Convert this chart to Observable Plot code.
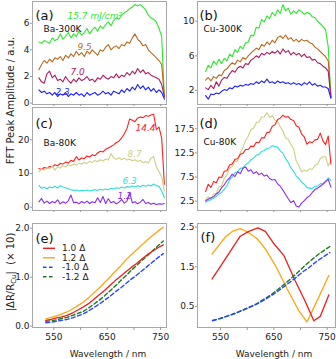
<!DOCTYPE html>
<html><head><meta charset="utf-8">
<script src="https://cdn.jsdelivr.net/npm/d3@7"></script>
<script src="https://cdn.jsdelivr.net/npm/@observablehq/plot@0.6"></script>
<style>
html,body{margin:0;padding:0;background:#fff;}
#chart{position:relative;width:336px;height:359px;overflow:hidden;font-family:"DejaVu Sans";}
#chart svg{position:absolute;}
</style></head><body><div id="chart"></div>
<script>
// ---------- data ----------
const wlNoisy = [522,527,532,537,542,547,552,557,562,567,572,577,582,587,592,597,602,607,612,617,622,627,632,637,642,647,652,657,662,667,672,677,682,687,692,697,702,707,712,717,722,727,732,737,742,747,752,757];
const wlSmooth = [535,545,555,565,575,585,595,605,615,625,635,645,655,665,675,685,695,705,715,725,735,745,755];

// (a) Ba-300K
const aGreen = [4.6,4.5,4.7,4.6,4.5,4.9,4.7,4.8,5.2,4.8,5.0,5.3,4.9,5.2,5.0,5.4,5.1,5.3,5.6,5.2,5.5,5.7,5.4,5.8,5.6,5.9,6.1,5.8,6.2,6.4,6.3,6.6,6.8,6.9,7.1,7.2,7.4,7.3,7.4,7.2,7.0,6.6,6.4,6.3,6.1,5.6,5.0,0.4];
const aBrown = [2.5,2.9,3.2,3.0,3.3,3.1,3.4,3.3,3.5,3.2,3.6,3.4,3.7,3.5,3.9,3.6,3.8,3.5,3.9,3.7,4.0,3.8,3.6,4.0,3.9,4.2,4.4,4.0,4.2,4.3,4.1,4.4,4.3,4.6,4.5,4.9,5.2,4.8,4.6,4.3,4.4,4.0,3.8,3.6,3.4,3.2,2.9,0.5];
const aMagenta = [1.9,1.6,1.5,2.2,2.4,1.9,2.1,1.7,1.8,1.6,2.0,1.7,1.5,1.8,1.6,1.9,1.7,1.8,2.0,1.7,1.8,1.6,1.9,1.8,2.1,1.9,1.8,2.0,1.9,2.2,1.9,2.1,2.0,2.3,2.1,2.4,2.2,2.6,2.3,2.5,2.2,2.3,2.1,2.0,1.9,1.8,1.4,0.5];
const aBlue = [1.0,0.8,0.9,0.7,0.8,0.6,0.8,0.5,0.7,0.6,0.8,0.5,0.7,0.6,0.8,0.6,0.7,0.5,0.8,0.6,0.7,0.8,0.6,0.7,0.9,0.7,0.8,0.6,0.9,0.8,0.7,1.0,0.8,1.1,0.9,1.2,1.0,1.4,1.1,1.3,1.0,1.2,0.9,1.1,0.8,1.0,0.8,0.3];

// (b) Cu-300K
const bGreen = [4.2,4.9,4.6,5.4,5.0,5.6,5.1,5.7,5.4,6.2,5.9,6.7,6.4,7.1,6.8,7.5,7.6,8.4,8.3,9.3,9.2,10.2,9.9,10.6,10.3,11.0,10.6,11.3,10.9,11.9,11.2,11.5,10.8,11.2,10.9,11.3,11.1,10.8,11.0,10.9,10.5,10.4,10.0,9.7,9.4,9.0,7.0,1.2];
const bBrown = [3.2,3.5,3.1,3.6,3.4,3.8,3.7,4.3,4.5,4.9,5.2,5.0,5.5,5.3,5.8,5.6,6.0,6.3,6.6,6.9,6.7,7.3,7.1,7.6,7.3,7.8,7.5,8.1,8.3,8.0,8.4,7.9,8.1,7.7,7.9,7.6,7.9,7.7,7.8,7.5,7.4,7.0,6.8,6.5,6.2,5.9,5.4,1.2];
const bMagenta = [2.3,2.1,2.6,2.2,3.0,2.5,3.2,3.5,3.4,3.9,4.3,4.1,4.6,4.8,4.6,5.1,5.0,5.5,5.7,6.0,5.8,6.3,6.1,6.4,6.2,6.5,6.3,6.6,6.2,6.8,6.4,6.6,6.1,6.4,6.1,6.3,5.9,6.2,5.8,5.9,5.5,5.6,5.2,5.1,4.8,4.6,4.2,1.2];
const bBlue = [1.4,1.0,1.6,1.5,1.7,1.6,1.9,2.1,2.0,2.3,2.2,2.5,2.4,2.6,2.5,2.7,2.6,2.8,2.7,3.0,2.8,3.1,2.9,3.3,2.9,3.0,2.8,3.1,2.9,3.0,2.8,2.9,2.7,2.9,2.7,2.8,2.6,2.9,2.7,3.0,2.6,2.8,2.5,2.6,2.4,2.4,2.2,1.1];

// (c) Ba-80K
const cRed = [11.5,11.2,11.8,11.6,12.1,12.0,12.6,12.3,13.0,12.8,13.4,13.1,13.9,13.6,15.0,14.0,14.6,14.4,15.2,14.9,15.6,15.3,16.1,16.6,16.4,17.2,17.6,18.0,18.5,19.2,19.6,20.6,21.8,23.4,26.2,25.8,25.4,26.5,26.8,26.6,27.2,27.0,27.4,27.6,23.0,23.8,20.5,6.8];
const cOlive = [10.5,11.3,11.0,11.8,11.4,12.2,11.0,12.0,11.6,12.3,12.0,12.6,12.3,12.8,12.5,13.1,12.8,13.3,13.0,13.6,13.3,13.9,13.5,14.1,13.7,14.3,14.0,15.9,14.6,14.2,14.7,14.1,14.5,14.0,14.3,13.8,14.1,13.6,13.9,13.2,13.6,13.1,14.6,15.0,12.0,10.5,9.0,4.8];
const cCyan = [6.5,5.6,5.9,5.5,6.0,5.8,6.2,5.7,6.4,6.0,5.8,5.5,5.2,5.0,5.1,4.8,5.0,4.9,5.1,4.8,5.0,5.2,5.0,5.3,5.1,5.4,5.2,5.6,5.4,5.8,5.6,6.0,5.7,6.1,5.9,6.3,6.0,6.4,6.1,6.5,6.2,6.6,6.3,6.9,6.4,6.2,4.8,2.8];
const cPurple = [1.6,2.6,1.2,1.8,1.1,1.7,1.3,2.2,1.0,1.6,1.2,1.9,3.6,1.3,1.5,1.0,1.7,1.2,1.8,1.1,1.6,1.3,2.8,1.4,3.2,1.1,2.5,1.3,1.7,1.0,1.5,2.3,1.2,1.8,4.4,1.3,1.6,1.0,1.5,2.3,1.1,1.4,0.9,1.2,0.8,1.0,0.9,1.1];

// (d) Cu-80K
const dRed = [4.5,6.0,5.3,6.6,6.3,7.5,7.4,8.7,8.8,10.0,10.2,11.2,11.3,12.2,12.4,13.2,13.2,13.9,13.8,14.7,14.6,15.6,15.6,16.7,16.8,18.0,18.3,19.4,19.7,20.3,19.9,20.0,19.4,19.2,18.1,17.8,16.4,15.8,14.3,14.8,14.6,15.2,15.3,16.6,15.0,14.2,16.0,10.2];
const dOlive = [2.8,3.4,2.9,4.0,4.1,5.5,5.7,7.2,7.9,9.4,9.7,10.8,10.8,12.5,13.6,15.1,16.0,17.3,17.6,18.8,18.9,19.9,20.0,20.8,19.9,20.2,19.3,19.0,17.9,17.0,15.6,15.3,14.2,13.4,10.8,9.8,8.6,8.9,8.7,9.2,9.1,9.9,10.2,11.3,11.7,11.7,9.8,11.0];
const dCyan = [2.3,2.6,2.8,3.1,3.5,4.0,4.3,5.0,5.7,6.9,7.5,8.4,8.6,9.3,9.4,10.1,10.4,11.1,11.4,12.0,12.2,12.8,13.0,13.4,13.5,14.0,13.8,13.7,12.9,12.4,11.3,10.5,9.4,8.7,7.7,7.2,6.4,6.0,5.3,5.2,5.1,5.6,5.6,6.1,6.2,6.7,7.3,6.8];
const dPurple = [2.6,2.9,3.2,3.4,4.0,4.4,5.3,5.9,6.8,7.3,8.1,7.6,8.6,8.2,9.3,9.6,8.7,9.0,8.2,8.6,8.0,8.3,7.7,7.9,7.2,6.9,7.0,6.1,5.6,4.8,3.9,3.0,2.2,2.6,1.5,1.3,2.1,2.6,3.2,3.6,4.3,4.9,5.2,5.6,6.0,6.5,7.0,5.4];

// (e) |dR/R_Cu| (x10), Ba
const eRed = [0.12,0.14,0.17,0.19,0.22,0.27,0.33,0.39,0.46,0.55,0.64,0.73,0.83,0.93,1.02,1.11,1.20,1.28,1.37,1.46,1.53,1.60,1.66];
const eOrange = [0.15,0.18,0.21,0.25,0.29,0.35,0.42,0.49,0.58,0.68,0.78,0.89,1.00,1.12,1.23,1.35,1.46,1.56,1.66,1.76,1.85,1.94,2.02];
const eBlue = [0.07,0.08,0.10,0.12,0.14,0.17,0.21,0.25,0.31,0.38,0.45,0.53,0.61,0.70,0.78,0.87,0.96,1.04,1.13,1.22,1.31,1.40,1.48];
const eGreen = [0.10,0.11,0.13,0.16,0.18,0.22,0.26,0.30,0.37,0.45,0.53,0.62,0.72,0.82,0.93,1.03,1.14,1.24,1.34,1.44,1.54,1.64,1.74];

// (f) Cu
const fRedWl = [534,560,587,603,620,634,650,669,690,708,725,737,753];
const fRed = [1.19,1.72,2.27,2.39,2.48,2.39,2.08,1.78,1.15,0.65,0.14,0.25,0.79];
const fOrangeWl = [534,559,572,587,602,619,634,653,675,697,712,731,753];
const fOrange = [1.82,2.25,2.39,2.46,2.37,2.20,1.95,1.53,0.94,0.39,0.11,0.64,1.28];
const fBlue = [0.14,0.18,0.22,0.27,0.31,0.37,0.42,0.48,0.54,0.61,0.69,0.77,0.86,0.96,1.06,1.16,1.27,1.38,1.47,1.58,1.68,1.77,1.86];
const fGreen = [0.15,0.18,0.22,0.27,0.32,0.37,0.43,0.49,0.55,0.63,0.71,0.80,0.90,1.01,1.12,1.24,1.36,1.49,1.61,1.72,1.83,1.92,2.01];

// ticks / labels
const xTicks = [550,600,650,700,750];
const xLabelTicks = [550,650,750];
const yTicksA = [0,2,4,6];
const yTicksB = [2,6,10];
const yTicksC = [0,10,20];
const yTicksD = [2.5,7.5,12.5,17.5];
const yTicksE = [0,1,2];
const yTicksF = [0.5,1.5,2.5];
const legendLabels = ["1.0 \u0394","1.2 \u0394","-1.0 \u0394","-1.2 \u0394"];

// ---------- colours ----------
const C = {green:"#2ee62e", brown:"#b8691d", magenta:"#ae1b5f", blue:"#1f1fff",
           red:"#ff1f1f", olive:"#cfcf82", cyan:"#30dcdc", purple:"#8a2cf2",
           eRed:"#ea1f1f", eOrange:"#ffa512", eBlue:"#2846ff", eGreen:"#1d7a1d"};

// ---------- drawing ----------
const chart = document.getElementById("chart");
const FONT = "DejaVu Sans";
const rows = (wl, v) => wl.map((w, i) => ({wl: w, v: v[i]}));

function panel(o) {
  const svg = Plot.plot({
    width: o.width, height: o.height,
    marginLeft: o.ml, marginRight: o.mr, marginTop: o.mt, marginBottom: o.mb,
    style: {fontFamily: FONT, fontSize: "9px", color: "#222", background: "transparent", overflow: "visible"},
    x: {domain: o.xDomain},
    y: {domain: o.yDomain},
    marks: [
      Plot.frame({stroke: "#a8a8a8"}),
      Plot.axisX({ticks: xTicks, tickSize: o.xTickSize, tickPadding: 3, stroke: "#999", fill: "#222",
        tickFormat: o.xLabels ? (d => xLabelTicks.includes(d) ? String(d) : "") : () => "", label: null, fontSize: 9}),
      Plot.axisY({ticks: o.yTicks, tickSize: 2, tickPadding: 1, stroke: "#999", fill: "#222", label: null, fontSize: 9,
        tickFormat: o.yFormat}),
      ...o.series.map(s => Plot.line(rows(s.wl, s.v), {x: "wl", y: "v", stroke: s.color, strokeWidth: s.w ?? 1.1, strokeDasharray: s.dash})),
      ...o.texts.map(t => Plot.text([t.text], {text: d => d, frameAnchor: "top-left", dx: t.dx, dy: t.dy,
        fill: t.color ?? "#111", fontSize: t.size ?? 9, fontStyle: t.italic ? "italic" : "normal",
        textAnchor: t.anchor ?? "start", rotate: t.rotate ?? 0}))
    ]
  });
  svg.style.left = o.left + "px";
  svg.style.top = o.top + "px";
  svg.style.background = "transparent";
  svg.style.overflow = "visible";
  chart.appendChild(svg);
  return svg;
}

const leftCol = {left: 0, width: 168, ml: 32, mr: 2, xDomain: [510, 761]};
const rightCol = {left: 166, width: 170, ml: 31, mr: 1, xDomain: [506.8, 765.6]};
const row1 = {top: 0, height: 106, mt: 1, mb: 2, xTickSize: 2, xLabels: false};
const row2 = {top: 106, height: 106, mt: 1, mb: 2, xTickSize: 2, xLabels: false};
const row3 = {top: 210, height: 149, mt: 13, mb: 32, xTickSize: 3, xLabels: true};

// (a)
panel({...leftCol, ...row1, yDomain: [-0.1, 7.63], yTicks: yTicksA,
  series: [
    {wl: wlNoisy, v: aGreen, color: C.green},
    {wl: wlNoisy, v: aBrown, color: C.brown},
    {wl: wlNoisy, v: aMagenta, color: C.magenta},
    {wl: wlNoisy, v: aBlue, color: C.blue}],
  texts: [
    {text: "(a)", dx: 3, dy: 9.5, size: 13},
    {text: "Ba-300K", dx: 11, dy: 24},
    {text: "15.7 mJ/cm\u00b2", dx: 35, dy: 11, color: C.green, italic: true},
    {text: "9.5", dx: 45, dy: 42, color: C.brown, italic: true},
    {text: "7.0", dx: 38, dy: 67, color: C.magenta, italic: true},
    {text: "2.3", dx: 23, dy: 87, color: C.blue, italic: true},
    {text: "FFT Peak Amplitude / a.u.", dx: -26, dy: 99, size: 10, anchor: "middle", rotate: -90, color: "#222"}]
});

// (b)
panel({...rightCol, ...row1, yDomain: [0.38, 12.27], yTicks: yTicksB,
  series: [
    {wl: wlNoisy, v: bGreen, color: C.green},
    {wl: wlNoisy, v: bBrown, color: C.brown},
    {wl: wlNoisy, v: bMagenta, color: C.magenta},
    {wl: wlNoisy, v: bBlue, color: C.blue}],
  texts: [
    {text: "(b)", dx: 2, dy: 9.5, size: 13},
    {text: "Cu-300K", dx: 6, dy: 24}]
});

// (c)
panel({...leftCol, ...row2, yDomain: [-0.98, 29.6], yTicks: yTicksC,
  series: [
    {wl: wlNoisy, v: cRed, color: C.red},
    {wl: wlNoisy, v: cOlive, color: C.olive},
    {wl: wlNoisy, v: cCyan, color: C.cyan},
    {wl: wlNoisy, v: cPurple, color: C.purple}],
  texts: [
    {text: "(c)", dx: 3, dy: 11, size: 13},
    {text: "Ba-80K", dx: 11, dy: 32},
    {text: "14.4", dx: 103, dy: 17, color: C.red, italic: true},
    {text: "8.7", dx: 95, dy: 43, color: C.olive, italic: true},
    {text: "6.3", dx: 90, dy: 70, color: C.cyan, italic: true},
    {text: "1.2", dx: 85, dy: 85, color: C.purple, italic: true}]
});

// (d)
panel({...rightCol, ...row2, yDomain: [0.57, 21.9], yTicks: yTicksD, yFormat: d => d.toFixed(1),
  series: [
    {wl: wlNoisy, v: dOlive, color: C.olive},
    {wl: wlNoisy, v: dRed, color: C.red},
    {wl: wlNoisy, v: dCyan, color: C.cyan},
    {wl: wlNoisy, v: dPurple, color: C.purple}],
  texts: [
    {text: "(d)", dx: 2, dy: 11, size: 13},
    {text: "Cu-80K", dx: 6, dy: 31}]
});

// (e)
const svgE = panel({...leftCol, ...row3, yDomain: [-0.027, 2.096], yTicks: yTicksE,
  series: [
    {wl: wlSmooth, v: eOrange, color: C.eOrange, w: 1.3},
    {wl: wlSmooth, v: eGreen, color: C.eGreen, w: 1.4, dash: "4,2.5"},
    {wl: wlSmooth, v: eBlue, color: C.eBlue, w: 1.4, dash: "4,2.5"},
    {wl: wlSmooth, v: eRed, color: C.eRed, w: 1.3}],
  texts: [
    {text: "(e)", dx: 3, dy: 10.5, size: 13},
    {text: "|\u0394R/RCu| (\u00d7 10)", dx: -26, dy: 48.5, size: 10, anchor: "middle", rotate: -90, color: "#222"},
    {text: "Wavelength / nm", dx: 75.5, dy: 127, anchor: "middle", color: "#222"}]
});

// (f)
panel({...rightCol, ...row3, yDomain: [-0.03, 2.59], yTicks: yTicksF,
  series: [
    {wl: fOrangeWl, v: fOrange, color: C.eOrange, w: 1.3},
    {wl: fRedWl, v: fRed, color: C.eRed, w: 1.3},
    {wl: wlSmooth, v: fGreen, color: C.eGreen, w: 1.4, dash: "4,2.5"},
    {wl: wlSmooth, v: fBlue, color: C.eBlue, w: 1.4, dash: "4,2.5"}],
  texts: [
    {text: "(f)", dx: 3, dy: 9.5, size: 13},
    {text: "Wavelength / nm", dx: 76.5, dy: 127, anchor: "middle", color: "#222"}]
});

// subscript in (e) title
d3.select(svgE).selectAll("text").each(function() {
  if (this.textContent === "|\u0394R/RCu| (\u00d7 10)") {
    this.textContent = "";
    const t = d3.select(this);
    t.append("tspan").text("|\u0394R/R");
    t.append("tspan").attr("dy", 2.5).attr("font-size", 7).text("Cu");
    t.append("tspan").attr("dy", -2.5).text("|  (\u00d7 10)");
  }
});

// legend in (e)
const legendColors = [C.eRed, C.eOrange, C.eBlue, C.eGreen];
const legendDash = [null, null, "3.5,2.5", "3.5,2.5"];
const legG = d3.select(svgE).append("g").attr("font-family", FONT).attr("font-size", 9).attr("text-anchor", "start");
legendLabels.forEach((lab, i) => {
  const y = 38.3 + i * 9.5;
  legG.append("line").attr("x1", 43).attr("x2", 55).attr("y1", y).attr("y2", y)
    .attr("stroke", legendColors[i]).attr("stroke-width", 1.4)
    .attr("stroke-dasharray", legendDash[i]);
  legG.append("text").attr("x", 62).attr("y", y).attr("dy", "0.32em").attr("fill", "#222").text(lab);
});
</script>
</body></html>
